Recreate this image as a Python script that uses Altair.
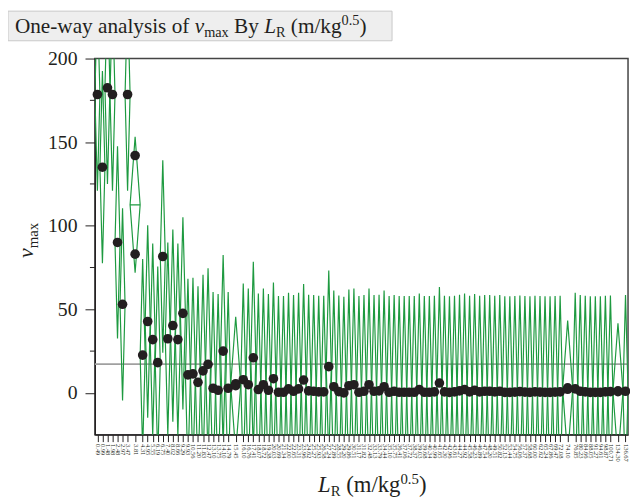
import altair as alt
import numpy as np
import pandas as pd

# ---------------- data ----------------
lr_labels = [
    "0.49", "0.99", "1.48", "1.98", "2.48", "2.97", "3.47", "3.81",
    "4.31", "4.95", "5.55", "6.19", "6.75", "7.40", "8.02", "8.66", "9.29", "9.93",
    "10.56", "11.20", "11.83", "12.47", "13.10", "13.75", "14.10", "14.79",
    "15.45",
    "16.10", "16.76", "17.41", "18.07", "18.72", "19.38", "20.03", "20.69", "21.34", "22.00",
    "22.65", "23.31", "23.96", "24.62", "25.27", "25.93", "26.58", "27.24", "27.89", "28.55",
    "29.20", "29.86", "30.51", "31.17", "31.82", "32.48", "33.13", "33.79", "34.44", "35.10",
    "35.75", "36.41", "37.06", "37.72", "38.37", "39.03", "39.68", "40.34", "40.99", "41.65",
    "42.30", "42.96", "43.61", "44.27", "44.92", "45.58", "46.23", "46.89", "47.54", "48.20",
    "49.51", "50.82", "52.13", "53.44", "54.75", "56.06", "57.37", "58.68", "60.00", "62.62",
    "65.24", "67.86", "69.47", "72.08",
    "74.10",
    "76.85", "80.23", "84.66", "88.05", "91.27", "94.61", "98.87", "100.71",
    "134.30", "136.67",
]

vmax_values = [
    [178.5], [135], [182.5], [178.5], [90], [53], [178.5],
    [142, 83],
    [22.6], [42.7], [31.9], [18.1], [81.6], [32.4], [40.3], [31.9], [47.6],
    [10.8], [11.4], [6.3], [13.2], [17.1], [2.8], [1.6], [25], [2.8],
    [5.5, 4.3],
    [7.9], [4.9], [21], [2], [4.9], [1.6], [8.5], [0.4], [0.4], [2.4],
    [1], [2.4], [7.7], [1.2], [1], [0.6], [0.6], [15.7], [3.7], [0.8],
    [0], [4.3], [4.9], [0.4], [1], [4.9], [1], [1.2], [3.7], [0.4],
    [1], [0.4], [0.4], [0.4], [0.4], [2], [0.4], [0.4], [0.6], [5.9],
    [0.6], [0.3], [0.6], [1.2], [2], [0.6], [1.6], [0.6], [1], [1],
    [0.6], [1], [0.3], [0.3], [0.5], [0.8], [0.5], [0.3], [0.6], [0.5],
    [0.3], [0.3], [0.5], [0.6],
    [3.0, 2.2],
    [2.4], [1], [0.6], [0.3], [0.3], [0.3], [0.6], [0.8],
    [0.8, 1.2],
    [1],
]
assert len(lr_labels) == len(vmax_values)

CI_HALF_N1 = 57.5
y_major = [0, 50, 100, 150, 200]
y_minor = [25, 75, 125, 175]
y_domain = [-25, 200]

# ---------------- derived tables ----------------
counts = [len(v) for v in vmax_values]
starts = np.concatenate([[0], np.cumsum(counts)[:-1]]).astype(float)
centers = starts + np.array(counts) / 2.0
total = float(sum(counts))

pts = pd.DataFrame(
    [{"x": float(c), "y": float(v), "g": i}
     for i, (c, vals) in enumerate(zip(centers, vmax_values)) for v in vals]
)

rows = []
for i, (s, n, vals) in enumerate(zip(starts, counts, vmax_values)):
    m = float(np.mean(vals))
    h = CI_HALF_N1 / np.sqrt(n)
    c, e = s + n / 2.0, s + n
    for k, (xx, yy) in enumerate([(s, m), (c, m + h), (e, m), (c, m - h), (s, m), (e, m)]):
        rows.append({"g": i, "o": k, "x": float(xx), "y": float(yy)})
dia = pd.DataFrame(rows)

centers_js = ",".join(repr(float(c)) for c in centers)
labels_js = ",".join("'" + l + "'" for l in lr_labels)
label_expr = f"[{labels_js}][indexof([{centers_js}], datum.value)]"

FONT = "Liberation Serif"
INK = "#231f20"

xs = alt.Scale(domain=[0, total], nice=False, zero=False)
ys = alt.Scale(domain=y_domain, nice=False, zero=False)
x_axis = alt.Axis(values=[float(c) for c in centers], labelExpr=label_expr, title=None,
                  labelAngle=90, labelFontSize=6.5, labelPadding=2, tickSize=7, grid=False,
                  labelOverlap=False, labelFlush=False, labelFont=FONT)
y_axis = alt.Axis(values=y_major, title=None, tickSize=10, labelPadding=8, labelFontSize=20,
                  grid=False, labelFlush=False, labelFont=FONT)
X = alt.X("x:Q", scale=xs, axis=x_axis)
Y = alt.Y("y:Q", scale=ys, axis=y_axis)

one = alt.Data(values=[{}])

# Times-metric widths (Liberation Serif) for placing rich-text fragments
W = {' ': 250, '(': 333, ')': 333, '-': 333, '.': 250, '/': 278, '0': 500, '5': 500,
     'B': 667, 'O': 722, 'R': 667, 'a': 444, 'e': 444, 'f': 333, 'g': 500, 'i': 278,
     'k': 500, 'l': 278, 'm': 778, 'n': 500, 'o': 500, 's': 389, 'w': 722, 'x': 500, 'y': 500}
WI = {'v': 444, 'L': 556}


def width(s, size, italic):
    tab = WI if italic else W
    return sum(tab.get(ch, W.get(ch, 500)) for ch in s) * size / 1000.0


def rich(frags, x0, y0, vertical=False):
    """frags: (text, size, italic, shift). shift is a baseline shift (+ = down)."""
    layers = []
    pos = x0 if not vertical else y0
    for text, size, italic, shift in frags:
        lead = len(text) - len(text.lstrip(" "))
        pos_txt = pos + (-1 if vertical else 1) * width(" " * lead, size, italic)
        t = text.strip(" ")
        if vertical:
            enc = dict(x=alt.value(x0 + shift), y=alt.value(pos_txt), text=alt.value(t))
            ang = 270
        else:
            enc = dict(x=alt.value(pos_txt), y=alt.value(y0 + shift), text=alt.value(t))
            ang = 0
        kw = dict(font=FONT, fontSize=size, color=INK, align="left", baseline="alphabetic", angle=ang)
        if italic:
            kw["fontStyle"] = "italic"
        layers.append(alt.Chart(one).mark_text(**kw).encode(**enc))
        pos += (-1 if vertical else 1) * width(text, size, italic)
    return layers


title_box = alt.Chart(one).mark_rect(fill="#eeeeee", stroke="#c8c8c8", strokeWidth=1).encode(
    x=alt.value(-88), x2=alt.value(301), y=alt.value(-48), y2=alt.value(-18))

title_txt = rich([("One-way analysis of ", 21.5, False, 0), ("v", 21.5, True, 0), ("max", 14.5, False, 4),
                  (" By ", 21.5, False, 0), ("L", 21.5, True, 0), ("R", 14.5, False, 4),
                  (" (m/kg", 21.5, False, 0), ("0.5", 14.5, False, -8), (")", 21.5, False, 0)],
                 -81, -26)

ytitle = rich([("v", 22, True, 0), ("max", 15, False, 5)], -63, 202, vertical=True)

xtitle = rich([("L", 23, True, 0), ("R", 15, False, 4), (" (m/kg", 23, False, 0),
               ("0.5", 15, False, -8), (")", 23, False, 0)], 226, 439)

minor = alt.Chart(pd.DataFrame({"y": y_minor})).mark_rule(color=INK, strokeWidth=1).encode(
    y=Y, x=alt.value(-5), x2=alt.value(0))

gmean = alt.Chart(pts).mark_rule(color="#a0a0a0", strokeWidth=2).encode(
    y=alt.Y("mean(y):Q", scale=ys, axis=y_axis))

diamonds = alt.Chart(dia).mark_line(color="#1e9a40", strokeWidth=1.2, clip=True).encode(
    x=X, y=Y, detail="g:N", order="o:Q")

points = alt.Chart(pts).mark_circle(color=INK, size=95, opacity=1).encode(x=X, y=Y)

chart = alt.layer(
    title_box, *title_txt, minor, gmean, diamonds, points, *ytitle, *xtitle
).properties(
    width=540, height=381,
    autosize=alt.AutoSizeParams(type="none"),
    padding={"left": 88, "top": 48, "right": 2, "bottom": 67},
).configure_view(
    stroke="#444444", strokeWidth=1.5
).configure_axis(
    domainColor=INK, tickColor=INK, labelColor=INK, domainWidth=1.2
)

chart.save("out.html", embed_options={"renderer": "svg", "actions": False})
